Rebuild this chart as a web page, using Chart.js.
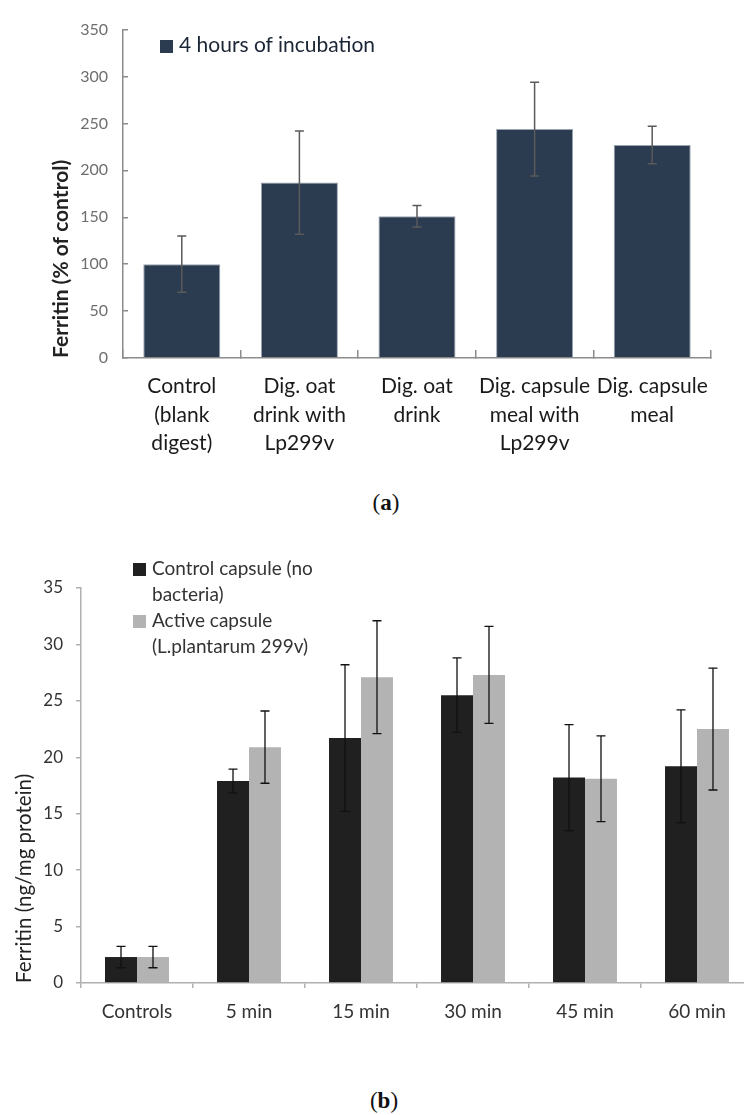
<!DOCTYPE html>
<html>
<head>
<meta charset="utf-8">
<script src="https://cdn.jsdelivr.net/npm/chart.js@4.4.1/dist/chart.umd.min.js"></script>
<style>
  html, body { margin:0; padding:0; background:#fff; width:744px; height:1115px; overflow:hidden; }
  .wrap { position:absolute; left:0; }
  #wrapA { top:0; width:744px; height:470px; }
  #wrapB { top:540px; width:760px; height:500px; }
  .leg { position:absolute; font-family:Lato, sans-serif; line-height:26px; white-space:nowrap; }
  .sw { display:inline-block; width:13px; height:13px; margin-right:6px; vertical-align:-1px; }
  .cap { position:absolute; width:100px; text-align:center; font-family:'Liberation Serif', serif; font-size:23px; line-height:26px; color:#111; }
  .cap b { font-weight:bold; }
</style>
</head>
<body>

<div class="wrap" id="wrapA"><canvas id="chartA"></canvas></div>
<div class="leg" style="left:160px; top:31px; font-size:21px; color:#1a2535;"><span class="sw" style="background:#2b3b50"></span>4 hours of incubation</div>
<div class="cap" style="left:336px; top:490px;">(<b>a</b>)</div>

<div class="wrap" id="wrapB"><canvas id="chartB"></canvas></div>
<div class="leg" style="left:133px; top:555px; font-size:19px; color:#333;">
  <div><span class="sw" style="background:#202020"></span>Control capsule (no</div>
  <div style="padding-left:19px">bacteria)</div>
  <div><span class="sw" style="background:#b3b3b3"></span>Active capsule</div>
  <div style="padding-left:19px">(L.plantarum 299v)</div>
</div>
<div class="cap" style="left:334px; top:1088px;">(<b>b</b>)</div>

<script>
// (a) ferritin after 4 h incubation, % of control
const groupsA = [['Control', '(blank', 'digest)'], ['Dig. oat', 'drink with', 'Lp299v'], ['Dig. oat', 'drink'], ['Dig. capsule', 'meal with', 'Lp299v'], ['Dig. capsule', 'meal']];
const ferritinA = [100, 187, 151, 244, 227];
const errorA = [30, 55, 11.5, 50, 20];

// (b) ferritin, ng/mg protein
const timesB = ['Controls', '5 min', '15 min', '30 min', '45 min', '60 min'];
const controlCapsule = [2.3, 17.9, 21.7, 25.5, 18.2, 19.2];
const controlError = [0.95, 1.05, 6.5, 3.3, 4.7, 5.0];
const activeCapsule = [2.3, 20.9, 27.1, 27.3, 18.1, 22.5];
const activeError = [0.95, 3.2, 5.0, 4.3, 3.8, 5.4];

// draws +/- error whiskers on each bar
const errorBars = {
  id: 'errorBars',
  afterDatasetsDraw(chart, args, opts) {
    const ctx = chart.ctx;
    const y = chart.scales.y;
    chart.data.datasets.forEach((ds, di) => {
      const meta = chart.getDatasetMeta(di);
      meta.data.forEach((bar, i) => {
        const v = ds.data[i], e = ds.errors[i];
        const top = y.getPixelForValue(v + e);
        const bot = y.getPixelForValue(v - e);
        ctx.save();
        ctx.strokeStyle = opts.color;
        ctx.lineWidth = opts.width;
        ctx.beginPath();
        ctx.moveTo(bar.x, top); ctx.lineTo(bar.x, bot);
        ctx.moveTo(bar.x - opts.cap, top); ctx.lineTo(bar.x + opts.cap, top);
        ctx.moveTo(bar.x - opts.cap, bot); ctx.lineTo(bar.x + opts.cap, bot);
        ctx.stroke();
        ctx.restore();
      });
    });
  }
};

new Chart(document.getElementById('chartA'), {
  type: 'bar',
  data: {
    labels: groupsA,
    datasets: [{
      label: '4 hours of incubation',
      data: ferritinA,
      errors: errorA,
      backgroundColor: '#2b3b50',
      borderColor: '#9aa4b0',
      borderWidth: 1,
      categoryPercentage: 0.655,
      barPercentage: 1
    }]
  },
  options: {
    responsive: true,
    maintainAspectRatio: false,
    animation: false,
    layout: { padding: { top: 19, right: 33, left: 0, bottom: 0 } },
    plugins: {
      legend: { display: false },
      tooltip: { enabled: false },
      errorBars: { color: '#5a5a5a', width: 1.5, cap: 4.5 }
    },
    scales: {
      x: {
        afterFit: s => { s.height = 112; },
        grid: { drawOnChartArea: false, tickLength: -8, color: '#8c8c8c', lineWidth: 1.5 },
        border: { color: '#8c8c8c', width: 1.5 },
        ticks: { padding: 22, color: '#1a1a1a', maxRotation: 0, autoSkip: false, font: { family: 'Lato', size: 21, lineHeight: 1.357 } }
      },
      y: {
        min: 0, max: 350,
        afterFit: s => { s.width = 123; },
        grid: { drawOnChartArea: false, tickLength: -5, color: '#8c8c8c', lineWidth: 1.5 },
        border: { color: '#8c8c8c', width: 1.5 },
        ticks: { stepSize: 50, padding: 20, color: '#6e6e6e', font: { family: 'Lato', size: 16 } },
        title: { display: true, text: 'Ferritin (% of control)', align: 'start', color: '#222', padding: { top: 49, bottom: 0 }, font: { family: 'Lato', size: 21, weight: 'bold' } }
      }
    }
  },
  plugins: [errorBars]
});

new Chart(document.getElementById('chartB'), {
  type: 'bar',
  data: {
    labels: timesB,
    datasets: [{
      label: 'Control capsule (no bacteria)',
      data: controlCapsule,
      errors: controlError,
      backgroundColor: '#202020',
      categoryPercentage: 0.571,
      barPercentage: 1
    }, {
      label: 'Active capsule (L.plantarum 299v)',
      data: activeCapsule,
      errors: activeError,
      backgroundColor: '#b3b3b3',
      categoryPercentage: 0.571,
      barPercentage: 1
    }]
  },
  options: {
    responsive: true,
    maintainAspectRatio: false,
    animation: false,
    layout: { padding: { top: 48, right: 7, left: 0, bottom: 0 } },
    plugins: {
      legend: { display: false },
      tooltip: { enabled: false },
      errorBars: { color: '#111', width: 1.3, cap: 4.5 }
    },
    scales: {
      x: {
        afterFit: s => { s.height = 57; },
        grid: { drawOnChartArea: false, tickLength: 5, color: '#b0b0b0', lineWidth: 1.5 },
        border: { color: '#b0b0b0', width: 1.5 },
        ticks: { padding: 12, color: '#333', maxRotation: 0, autoSkip: false, font: { family: 'Lato', size: 19 } }
      },
      y: {
        min: 0, max: 35,
        afterFit: s => { s.width = 81; },
        grid: { drawOnChartArea: false, tickLength: 5, color: '#b0b0b0', lineWidth: 1.5 },
        border: { color: '#b0b0b0', width: 1.5 },
        ticks: { stepSize: 5, padding: 13, color: '#333', font: { family: 'Lato', size: 17 } },
        title: { display: true, text: 'Ferritin (ng/mg protein)', align: 'start', color: '#222', padding: { top: 12, bottom: 0 }, font: { family: 'Lato', size: 20.5 } }
      }
    }
  },
  plugins: [errorBars]
});
</script>
</body>
</html>
